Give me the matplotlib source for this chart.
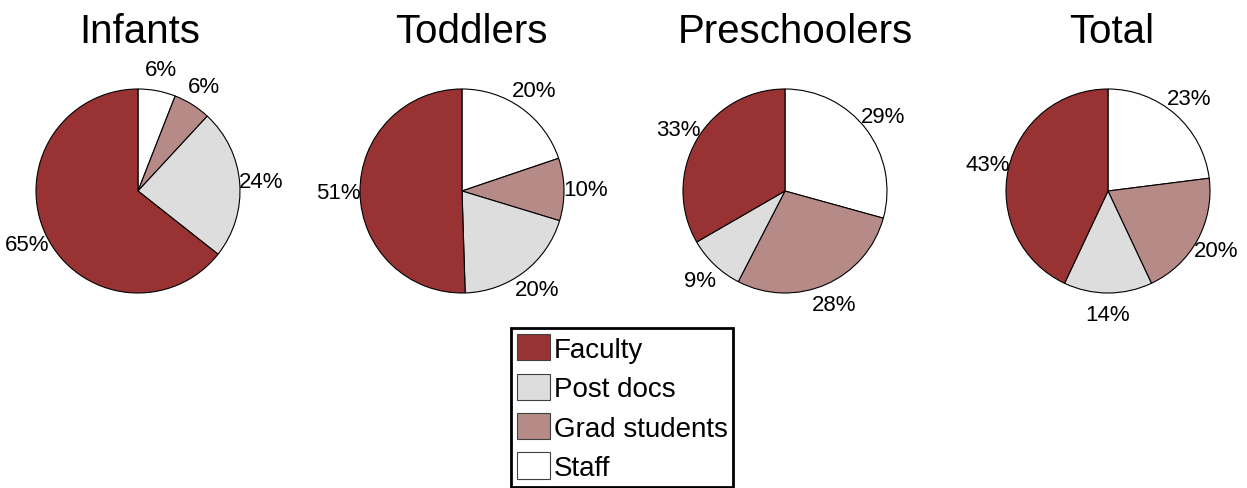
import matplotlib
matplotlib.use("Agg")
import matplotlib.pyplot as plt
from matplotlib.patches import Patch

plt.rcParams['font.family'] = ['Liberation Sans', 'DejaVu Sans']

# Groups and their staffing shares (percent), wedge order: Staff, Grad students, Post docs, Faculty
groups = ["Infants", "Toddlers", "Preschoolers", "Total"]
categories = ["Staff", "Grad students", "Post docs", "Faculty"]
infants = [6, 6, 24, 65]
toddlers = [20, 10, 20, 51]
preschoolers = [29, 28, 9, 33]
total = [23, 20, 14, 43]
series = [infants, toddlers, preschoolers, total]

colors = {
    "Faculty": "#993333",
    "Post docs": "#dddddd",
    "Grad students": "#b68a87",
    "Staff": "#ffffff",
}
legend_order = ["Faculty", "Post docs", "Grad students", "Staff"]

W, H = 1247, 489
fig = plt.figure(figsize=(W / 100, H / 100), dpi=100)
fig.patch.set_facecolor("white")

centers_x = [138, 462, 785, 1108]   # pie centres in pixels
center_y = 192
radius_px = 102
box = 300
half = box / 2 / radius_px
title_dx = [2, 9, 10, 4]             # small horizontal nudges for the titles (px)

for name, vals, cx, tdx in zip(groups, series, centers_x, title_dx):
    ax = fig.add_axes([(cx - box / 2) / W, (H - center_y - box / 2) / H, box / W, box / H])
    wedges, texts = ax.pie(
        vals,
        labels=[f"{v}%" for v in vals],
        colors=[colors[c] for c in categories],
        startangle=90,
        counterclock=False,
        labeldistance=1.21,
        wedgeprops=dict(edgecolor="black", linewidth=0.8),
        textprops=dict(fontsize=16, color="black"),
    )
    for t in texts:
        t.set_horizontalalignment("center")
        t.set_verticalalignment("center")
    ax.set_xlim(-half, half)
    ax.set_ylim(-half, half)
    ax.axis("off")
    ax.text(tdx / radius_px, (center_y - 43) / radius_px, name,
            ha="center", va="baseline", fontsize=29, color="black")

handles = [Patch(facecolor=colors[c], edgecolor="#404040", linewidth=0.8) for c in legend_order]
leg = fig.legend(
    handles, legend_order,
    loc="upper left",
    bbox_to_anchor=(511 / W, 1 - 329 / H),
    bbox_transform=fig.transFigure,
    borderaxespad=0,
    fontsize=20,
    handlelength=1.19,
    handleheight=1.08,
    handletextpad=0.12,
    labelspacing=0.39,
    borderpad=0.22,
    fancybox=False,
    framealpha=1,
    edgecolor="black",
)
leg.get_frame().set_linewidth(2)

fig.savefig("out.png", dpi=100, facecolor="white")
